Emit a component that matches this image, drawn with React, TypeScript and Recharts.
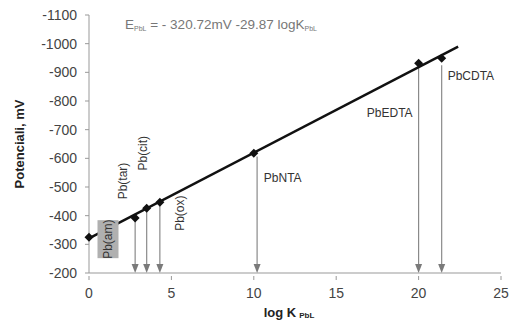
import React from 'react';
import {
  ComposedChart,
  Line,
  Scatter,
  XAxis,
  YAxis,
  ReferenceLine,
  Label,
} from 'recharts';

const complexes = ['Pb(am)', 'Pb(tar)', 'Pb(cit)', 'Pb(ox)', 'PbNTA', 'PbEDTA', 'PbCDTA'];
const logK = [0, 2.8, 3.5, 4.3, 10.0, 20.0, 21.4];
const potential = [-325, -392, -426, -447, -618, -932, -949];
// where each arrow leaves the point (mV), null = no arrow
const arrowFrom = [null, -388, -426, -447, -606, -932, -925];
const arrowX = [null, 2.8, 3.5, 4.3, 10.2, 20.0, 21.4];

const fitX = [0, 22.4];
const fitE = [-321, -990];

const xTicks = [0, 5, 10, 15, 20, 25];
const yTicks = [-1100, -1000, -900, -800, -700, -600, -500, -400, -300, -200];

const points = complexes.map((name, i) => ({ name, x: logK[i], E: potential[i] }));
const fitData = fitX.map((x, i) => ({ x, E: fitE[i] }));

const FONT = '"Liberation Sans", Arial, sans-serif';

// label placement relative to the point, in pixels
const labelStyle: Record<string, { dx: number; dy: number; rotate?: boolean; anchor?: string }> = {
  'Pb(am)': { dx: 19, dy: 2, rotate: true },
  'Pb(tar)': { dx: -12, dy: -37, rotate: true },
  'Pb(cit)': { dx: -4, dy: -55, rotate: true },
  'Pb(ox)': { dx: 20, dy: 11, rotate: true },
  PbNTA: { dx: 10, dy: 25, anchor: 'start' },
  PbEDTA: { dx: -6, dy: 50, anchor: 'end' },
  PbCDTA: { dx: 6, dy: 18, anchor: 'start' },
};

function PointShape(props: any) {
  const { cx, cy, payload } = props;
  const s = labelStyle[payload.name];
  const lx = cx + s.dx;
  const ly = cy + s.dy;
  return (
    <g>
      <polygon
        points={`${cx},${cy - 4.5} ${cx + 4.5},${cy} ${cx},${cy + 4.5} ${cx - 4.5},${cy}`}
        fill="#111"
      />
      {payload.name === 'Pb(am)' && (
        <rect x={lx - 10.5} y={ly - 19} width={21} height={38} fill="#b0b0b0" />
      )}
      {s.rotate ? (
        <text
          x={lx}
          y={ly}
          transform={`rotate(-90 ${lx} ${ly})`}
          textAnchor="middle"
          dominantBaseline="central"
          fontSize={12}
          fontFamily={FONT}
          fill="#333"
        >
          {payload.name}
        </text>
      ) : (
        <text
          x={lx}
          y={ly}
          textAnchor={s.anchor}
          dominantBaseline="central"
          fontSize={12}
          fontFamily={FONT}
          fill="#333"
        >
          {payload.name}
        </text>
      )}
    </g>
  );
}

function Arrow(props: any) {
  const { x1, y1, x2, y2 } = props;
  const top = Math.min(y1, y2);
  const bottom = Math.max(y1, y2);
  return (
    <g>
      <line x1={x1} y1={top} x2={x2} y2={bottom - 6} stroke="#8a8a8a" strokeWidth={1.2} />
      <polygon
        points={`${x1 - 3.5},${bottom - 9} ${x1 + 3.5},${bottom - 9} ${x1},${bottom}`}
        fill="#7a7a7a"
      />
    </g>
  );
}

function XTick(props: any) {
  const { x, y, payload } = props;
  return (
    <g>
      <line x1={x} y1={y - 5} x2={x} y2={y - 1} stroke="#999" />
      <text x={x} y={y + 17} textAnchor="middle" fontSize={14} fontFamily={FONT} fill="#444">
        {payload.value}
      </text>
    </g>
  );
}

export default function App() {
  return (
    <div style={{ position: 'absolute', left: 0, top: 0, background: '#fff' }}>
      <ComposedChart
        width={516}
        height={327}
        margin={{ top: 15, right: 15, bottom: 0, left: 0 }}
      >
        <XAxis
          dataKey="x"
          type="number"
          domain={[0, 25]}
          ticks={xTicks}
          stroke="#999"
          tickLine={false}
          tick={<XTick />}
          height={54}
        >
          <Label
            content={(p: any) => {
              const vb = p.viewBox;
              const cx = vb.x + vb.width / 2 - 6;
              return (
                <text
                  x={cx}
                  y={317}
                  textAnchor="middle"
                  fontFamily={FONT}
                  fontWeight="bold"
                  fontSize={13}
                  fill="#222"
                >
                  log K
                  <tspan fontSize={8} dx={3} dy={1}>
                    PbL
                  </tspan>
                </text>
              );
            }}
          />
        </XAxis>
        <YAxis
          type="number"
          domain={[-1100, -200]}
          ticks={yTicks}
          reversed
          width={89}
          stroke="#999"
          tickSize={4}
          tickMargin={8}
          tick={{ fontSize: 14, fontFamily: FONT, fill: '#444' }}
        >
          <Label
            content={() => (
              <text
                x={19}
                y={144}
                transform="rotate(-90 19 144)"
                textAnchor="middle"
                dominantBaseline="central"
                fontFamily={FONT}
                fontWeight="bold"
                fontSize={13}
                fill="#222"
              >
                Potenciali, mV
              </text>
            )}
          />
          <Label
            content={() => (
              <text x={125} y={29} fontFamily={FONT} fontSize={13.5} fill="#777">
                E
                <tspan fontSize={7} dy={2}>
                  PbL
                </tspan>
                <tspan dy={-2}> = - 320.72mV -29.87 logK</tspan>
                <tspan fontSize={7} dy={2}>
                  PbL
                </tspan>
              </text>
            )}
          />
        </YAxis>
        {complexes.map((name, i) =>
          arrowFrom[i] === null ? null : (
            <ReferenceLine
              key={name}
              segment={[
                { x: arrowX[i] as number, y: arrowFrom[i] as number },
                { x: arrowX[i] as number, y: -200 },
              ]}
              shape={<Arrow />}
            />
          )
        )}
        <Line
          data={fitData}
          dataKey="E"
          type="linear"
          stroke="#111"
          strokeWidth={2.5}
          dot={false}
          activeDot={false}
          isAnimationActive={false}
        />
        <Scatter data={points} dataKey="E" shape={<PointShape />} isAnimationActive={false} />
      </ComposedChart>
    </div>
  );
}
